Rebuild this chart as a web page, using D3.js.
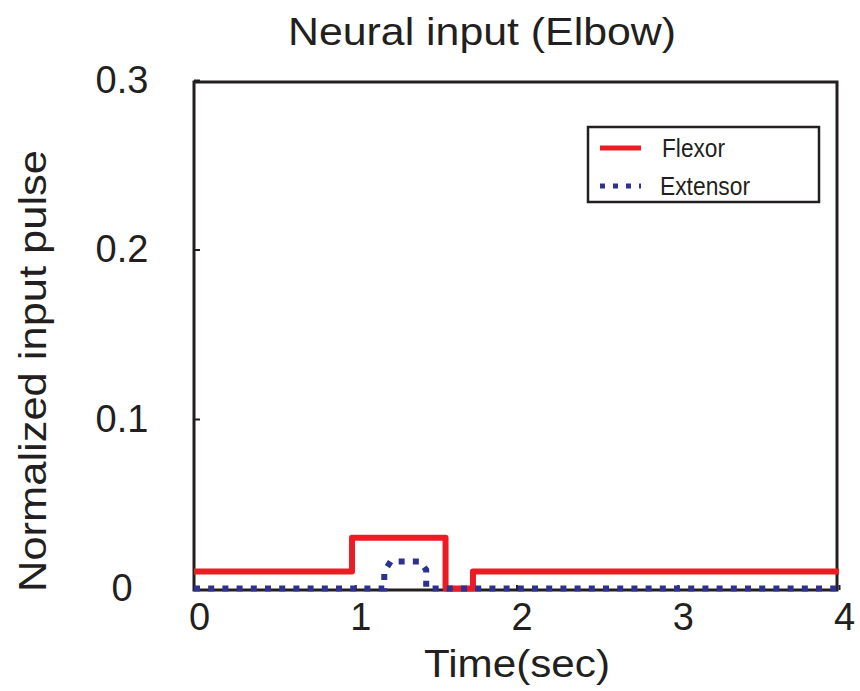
<!DOCTYPE html>
<html>
<head>
<meta charset="utf-8">
<script src="https://cdn.jsdelivr.net/npm/d3@7"></script>
<style>
  html, body { margin: 0; padding: 0; background: #fff; }
  svg { display: block; font-family: "Liberation Sans", Arial, Helvetica, sans-serif; }
</style>
</head>
<body>
<svg id="chart" width="860" height="691"></svg>
<script>
// Elbow neural input pulses (normalized), time in seconds
const flexorTime  = [0, 0.98, 0.98, 1.56, 1.56, 1.73, 1.73, 4];
const flexorValue = [0.01, 0.01, 0.03, 0.03, 0, 0, 0.01, 0.01];

const extensorTime  = [0, 1.18, 1.18, 1.22, 1.40, 1.44, 1.44, 4];
const extensorValue = [0, 0, 0.010, 0.016, 0.016, 0.011, 0, 0];

const xTicks = [0, 1, 2, 3, 4];
const xTickLabels = ["0", "1", "2", "3", "4"];
const yTicks = [0, 0.1, 0.2, 0.3];
const yTickLabels = ["0", "0.1", "0.2", "0.3"];

const seriesNames = ["Flexor", "Extensor"];
const seriesColors = ["#ed1c24", "#2e3192"];

const svg = d3.select("#chart");
const ink = "#231f20";

const x = d3.scaleLinear().domain([0, 4]).range([194, 839]);
const y = d3.scaleLinear().domain([0, 0.3]).range([588.5, 80]);

// Frame
svg.append("rect")
  .attr("x", 194).attr("y", 82)
  .attr("width", 837 - 194).attr("height", 590 - 82)
  .attr("fill", "none").attr("stroke", ink).attr("stroke-width", 3);

// Axes with inward ticks
const xAxis = svg.append("g")
  .attr("transform", "translate(0,590)")
  .call(d3.axisBottom(x).tickValues(xTicks)
    .tickFormat((d, i) => xTickLabels[i])
    .tickSizeInner(-5).tickSizeOuter(0).tickPadding(0));
xAxis.select(".domain").remove();
xAxis.selectAll(".tick line").attr("stroke", ink).attr("stroke-width", 2);
xAxis.selectAll(".tick text")
  .attr("font-size", 38).attr("fill", ink)
  .attr("font-family", "Liberation Sans, Arial, sans-serif")
  .attr("dx", 5).attr("y", 40).attr("dy", 0);

const yAxis = svg.append("g")
  .attr("transform", "translate(194,0)")
  .call(d3.axisLeft(y).tickValues(yTicks)
    .tickFormat((d, i) => yTickLabels[i])
    .tickSizeInner(-6).tickSizeOuter(0).tickPadding(0));
yAxis.select(".domain").remove();
yAxis.selectAll(".tick line").attr("stroke", ink).attr("stroke-width", 2);
yAxis.selectAll(".tick text")
  .attr("font-size", 38).attr("fill", ink)
  .attr("font-family", "Liberation Sans, Arial, sans-serif")
  .attr("text-anchor", "middle")
  .attr("x", -72).attr("dy", 12);

// Series lines
const line = d3.line().x(d => x(d[0])).y(d => y(d[1]));
const flexorPts = flexorTime.map((t, i) => [t, flexorValue[i]]);
const extensorPts = extensorTime.map((t, i) => [t, extensorValue[i]]);

svg.append("path")
  .attr("d", line(flexorPts))
  .attr("fill", "none").attr("stroke", seriesColors[0])
  .attr("stroke-width", 6).attr("stroke-linejoin", "round");

svg.append("path")
  .attr("d", line(extensorPts))
  .attr("fill", "none").attr("stroke", seriesColors[1])
  .attr("stroke-width", 6).attr("stroke-dasharray", "6,8.2");

// Titles
svg.append("text")
  .attr("x", 482).attr("y", 45)
  .attr("text-anchor", "middle").attr("font-size", 38).attr("fill", ink)
  .attr("textLength", 388).attr("lengthAdjust", "spacingAndGlyphs")
  .text("Neural input (Elbow)");

svg.append("text")
  .attr("x", 517).attr("y", 677)
  .attr("text-anchor", "middle").attr("font-size", 38).attr("fill", ink)
  .attr("textLength", 186).attr("lengthAdjust", "spacingAndGlyphs")
  .text("Time(sec)");

svg.append("text")
  .attr("transform", "translate(46,371) rotate(-90)")
  .attr("text-anchor", "middle").attr("font-size", 38).attr("fill", ink)
  .attr("textLength", 442).attr("lengthAdjust", "spacingAndGlyphs")
  .text("Normalized input pulse");

// Legend
const legend = svg.append("g");
legend.append("rect")
  .attr("x", 588).attr("y", 127).attr("width", 231).attr("height", 75)
  .attr("fill", "#fff").attr("stroke", ink).attr("stroke-width", 2.5);

const legendRows = [148, 186];
const legendTextLen = [63, 90];
seriesNames.forEach((name, i) => {
  const ly = legendRows[i];
  legend.append("line")
    .attr("x1", 600).attr("x2", 641).attr("y1", ly).attr("y2", ly)
    .attr("stroke", seriesColors[i]).attr("stroke-width", 5)
    .attr("stroke-dasharray", i === 1 ? "5,8" : null);
  legend.append("text")
    .attr("x", i === 0 ? 662 : 660).attr("y", ly + 9)
    .attr("font-size", 25).attr("fill", ink)
    .attr("textLength", legendTextLen[i]).attr("lengthAdjust", "spacingAndGlyphs")
    .text(name);
});
</script>
</body>
</html>
